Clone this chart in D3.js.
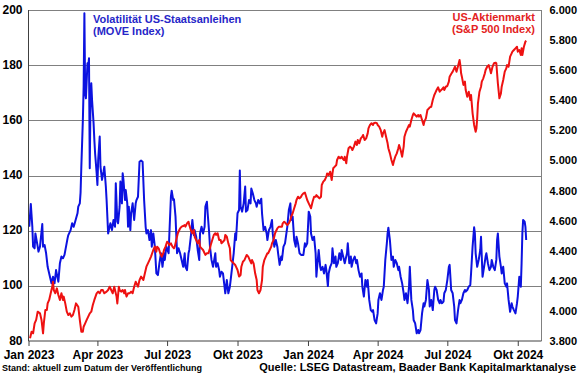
<!DOCTYPE html>
<html>
<head>
<meta charset="utf-8">
<script src="https://cdn.jsdelivr.net/npm/d3@7"></script>
<style>
  html, body { margin: 0; padding: 0; background: #fff; }
  svg { display: block; font-family: "Liberation Sans", Arial, sans-serif; font-weight: bold; }
</style>
</head>
<body>
<svg id="chart" width="580" height="375"></svg>
<script>
// ---------------- DATA ----------------
const baseDate = "2023-01-01"; // day offsets below count from this date

// MOVE Index (left axis)
const moveDays = [
  1,3,5,6,8,9,12,13,15,18, 19,21,23,25,28,30,32,34,36,39, 41,43,45,47,51,52,55,57,59,61,
  64,65,67,68,69,71,72,73,74,75, 77,78,79,80,81,82,83,85,86,87, 89,90,91,93,94,96,98,99,101,102,
  104,105,107,109,111,113,114,116,117,119, 120,122,123,124,126,127,129,130,131,133,
  134,136,138,140,141,143,145,147,149,151, 153,154,156,158,160,161,163,165,167,169,
  171,173,175,177,178,180,183,184,186,187, 189,190,192,194,196,198,200,202,204,205,
  207,209,210,212,214,216,217,219,221,223, 224,226,228,230,231,233,234,236,237,239,
  241,244,245,247,249,250,252,254,256,257, 259,261,263,264,266,268,270,271,273,275,
  276,277,279,281,283,284,286,288,290,291, 293,295,297,298,300,302,304,305,307,309,
  311,312,314,316,318,319,321,323,325,326, 328,330,331,333,335,
  338,340,342,343,345,347,349,350,352,354, 356,357,359,361,362,364,366,368,369,371,
  373,375,376,377,379,381,382,384,386,388, 389,391,392,394,396,397,399,401,402,404,
  406,408,409,411,413,415,416,417,419,421, 422,424,426,428,429,431,433,435,436,438,
  440,442,443,445,447,449,450,452,454,456, 457,459,461,463,464,466,468,469,470,472,
  474,476,477,479,481,483,484,486,488,490, 491,493,495,497,
  498,500,502,503,505,507,509,510,512,514, 516,517,519,521,523,524,526,528,530,531,
  533,535,537,538,540,542,543,545,547,549, 550,551,552,554,556,557,559,561,563,564,
  566,568,570,571,573,575,577,578,580,582, 583,584,586,588,590,591,593,595,597,598,
  600,602,604,605,607,609,611,612,613,615, 617,618,620,622,624,625,627,629,631,632,
  634,636,638,639,641,643,644,645,646,648, 649,650
];
const moveValues = [
  121.4,129.7,121.4,114.2,113.6,119.0,114.2,112.4,114.2,122.4, 114.2,114.8,111.8,106.9,103.3,100.9,103.3,100.9,105.7,101.5, 108.2,110.6,110.0,111.2,117.2,118.4,120.2,122.7,121.4,123.3,
  126.3,128.7,129.9,133.8,143.2,160.1,172.2,198.8,169.8,168.0, 180.7,179.5,182.5,142.6,167.4,173.4,167.4,158.9,152.9,148.0, 140.8,136.6,145.6,154.1,143.2,138.4,141.4,143.2,136.0,131.1,
  119.0,120.2,122.7,120.2,123.9,121.4,137.2,123.3,122.7,128.7, 137.8,129.9,140.8,138.4,131.1,134.7,129.9,121.4,128.7,120.2,
  126.3,129.9,123.9,129.9,131.1,132.3,145.0,145.4,145.0,131.1, 121.4,119.0,120.2,116.6,120.2,114.2,119.0,114.2,104.5,103.9,
  108.2,111.8,106.9,111.8,109.4,114.2,111.8,119.0,132.3,134.5, 131.1,131.4,125.1,111.8,113.6,111.8,109.4,106.9,111.8,106.9,
  105.7,111.8,113.0,117.8,123.9,118.4,120.2,117.8,113.0,109.4, 119.0,121.4,119.0,121.4,128.7,130.5,126.3,119.0,114.2,109.4,
  106.9,111.8,106.9,108.2,105.7,103.3,105.1,104.5,99.7,97.3, 102.1,97.3,99.7,102.1,106.9,111.8,119.0,116.6,126.3,127.5,
  141.8,128.7,126.9,129.9,136.0,126.9,127.5,131.1,129.9,135.3, 133.5,131.1,129.9,128.7,131.1,129.9,131.6,126.3,120.2,121.4,
  119.0,116.6,120.2,121.4,123.9,119.0,114.2,116.6,114.2,111.8, 107.6,110.6,109.4,114.2,115.4,
  121.4,127.5,129.9,123.9,125.1,116.6,114.2,117.8,115.4,111.8, 111.2,111.2,111.2,115.4,114.2,115.4,126.9,125.1,119.0,116.6,
  117.8,111.8,103.3,106.9,113.0,106.9,105.7,106.9,104.5,107.6, 105.7,99.9,104.5,106.9,108.2,113.6,108.2,110.6,106.9,108.2,
  111.8,109.4,113.0,110.6,108.2,110.6,111.8,115.4,108.2,110.6, 106.9,109.4,110.6,108.2,109.4,105.7,103.3,104.5,99.7,96.1,
  102.1,99.7,102.1,94.9,91.2,90.6,91.2,87.6,86.4,90.0, 94.9,97.3,94.9,98.5,99.7,109.4,115.4,119.0,121.1,116.6,
  109.4,110.6,106.9,109.4,108.2,105.7,106.9,103.3,100.9,97.3, 94.9,97.3,93.7,99.7,
  106.9,94.9,91.2,87.6,86.4,82.8,84.0,82.8,84.0,90.0, 93.7,92.5,94.9,102.1,98.5,92.5,94.9,91.2,98.5,99.7,
  98.5,94.9,93.7,94.9,93.7,94.3,97.3,98.5,102.1,106.9, 107.6,103.3,98.5,97.3,92.5,87.6,86.4,91.2,94.9,93.7,
  94.9,97.3,98.5,97.9,98.5,99.7,100.3,104.5,114.2,121.2, 119.0,111.8,106.9,109.4,113.0,117.8,103.3,106.9,110.6,111.8,
  108.2,105.7,106.9,109.4,106.9,105.7,109.4,116.6,119.0,110.6, 106.9,104.5,106.9,100.9,99.7,100.9,94.9,90.6,93.7,92.5,
  91.2,90.0,93.7,96.1,103.3,99.7,108.2,119.0,123.9,123.3, 121.4,116.6
];

// S&P 500 Index (right axis)
const spxDays = [
  2,4,6,8,10,12,15,17,19,20, 22,24,25,27,29,31,32,33,35,37, 39,41,43,45,46,48,50,52,54,56,
  58,60,62,65,67,69,71,72,74,76, 78,80,82,84,86,89,91,93,95,97, 99,102,104,106,108,110,112,115,116,118,
  119,121,123,125,126,128,130,132,134,136, 138,140,141,143,145,147,150,152,154,156, 158,160,163,165,167,168,170,
  172,174,176,177,179,181,183,184,186,188, 190,191,193,195,197,198,200,202,204,205,
  207,209,210,212,214,216,217,219,221,223, 224,226,228,230,231,233,235,237,238,240,
  242,244,245,247,249,251,252,254,256,257, 259,261,263,264,266,268,270,271,273,275,
  277,278,280,282,284,285,287,289,291,292, 294,296,298,299,301,303,305,306,308,310,
  312,313,315,317,318,320,322,324,325,327, 329,331,332,334,
  338,340,342,343,345,347,349,350,352,354, 356,357,359,361,362,364,366,368,369,371,
  373,375,376,378,380,382,383,385,387,389, 390,392,394,396,397,398,400,402,403,405,
  407,409,410,412,413,415,416,418,420,422, 423,425,427,429,430,432,434,436,437,439,
  441,443,444,446,448,450,451,453,455,456, 458,460,462,463,465,467,469,470,472,474,
  476,477,479,481,483,484,486,488,490,491, 493,495,497,
  498,500,502,503,505,507,509,510,512,514, 516,517,519,521,523,524,526,528,530,531,
  533,535,537,538,540,542,543,545,547,549, 550,552,554,556,557,559,561,563,564,565,
  566,568,570,571,573,575,577,578,580,582, 584,585,586,587,589,591,592,594,596,597,
  599,601,603,604,606,608,610,611,613,615, 617,618,620,622,624,625,627,629,631,632,
  634,636,638,639,641,643,644,645,647,649, 650
];
const spxValues = [
  3818,3862,3851,3917,3940,3995,3984,3940,3851,3917, 4006,4006,4050,4073,4117,4161,4194,4139,4117,4150, 4106,4073,4117,4073,4095,4050,3995,3973,3984,3962,
  3973,4006,4050,4028,3940,3862,3862,3895,3917,3940, 3962,3984,3995,4039,4073,4117,4128,4117,4139,4139, 4117,4128,4139,4161,4139,4117,4161,4095,4050,4161,
  4139,4128,4139,4117,4139,4095,4117,4117,4128,4117, 4161,4194,4183,4161,4205,4228,4205,4250,4294,4316, 4338,4361,4405,4427,4394,4427,4416,
  4383,4361,4383,4405,4427,4460,4449,4438,4449,4427, 4416,4427,4471,4516,4538,4549,4560,4564,4571,4560,
  4582,4593,4571,4538,4516,4538,4493,4471,4449,4471, 4427,4416,4405,4383,4372,4383,4383,4416,4438,4471,
  4505,4516,4505,4516,4471,4471,4449,4460,4471,4505, 4493,4449,4416,4338,4327,4316,4305,4294,4272,4228,
  4239,4294,4327,4338,4361,4372,4361,4338,4316,4338, 4316,4250,4205,4139,4117,4139,4205,4294,4338,4361,
  4383,4383,4405,4427,4449,4471,4516,4538,4549,4560, 4560,4560,4582,4593,
  4571,4582,4604,4626,4649,4682,4715,4737,4759,4748, 4759,4770,4781,4786,4770,4737,4715,4693,4682,4726,
  4759,4759,4770,4759,4748,4759,4837,4859,4870,4892, 4914,4903,4925,4870,4914,4948,4959,4970,5003,5025,
  5014,5025,5014,5003,5025,4981,5025,5081,5092,5081, 5069,5092,5125,5103,5136,5114,5147,5158,5169,5136,
  5147,5180,5213,5236,5247,5236,5247,5251,5247,5236, 5225,5202,5158,5180,5202,5158,5114,5081,5047,5003,
  4970,4992,5025,5047,5081,5103,5069,5025,5092,5158, 5191,5213,5236,
  5225,5269,5302,5313,5302,5291,5302,5291,5302,5269, 5236,5258,5280,5335,5346,5353,5357,5402,5435,5446,
  5468,5486,5457,5464,5473,5486,5468,5490,5495,5524, 5557,5575,5590,5612,5623,5590,5628,5668,5634,5579,
  5557,5502,5524,5468,5424,5457,5402,5435,5313,5236, 5191,5213,5280,5380,5457,5490,5524,5546,5579,5601,
  5623,5634,5601,5579,5623,5646,5650,5646,5513,5413, 5446,5490,5535,5590,5612,5634,5623,5690,5712,5723,
  5734,5745,5756,5723,5734,5701,5745,5701,5756,5790, 5796
];

// Axes
const leftTicks = [80, 100, 120, 140, 160, 180, 200];
const gridTicks = [100, 120, 140, 160, 180, 200];
const rightTicks = [3800, 4000, 4200, 4400, 4600, 4800, 5000, 5200, 5400, 5600, 5800, 6000];
const xTickDates = ["2023-01-01","2023-04-01","2023-07-01","2023-10-01","2024-01-01","2024-04-01","2024-07-01","2024-10-01"];
const xTickLabels = ["Jan 2023","Apr 2023","Jul 2023","Okt 2023","Jan 2024","Apr 2024","Jul 2024","Okt 2024"];
const xDomain = ["2023-01-01", "2024-11-01"];

const moveTitle = ["Volatilität US-Staatsanleihen", "(MOVE Index)"];
const spxTitle = ["US-Aktienmarkt", "(S&P 500 Index)"];
const footLeft = "Stand: aktuell zum Datum der Veröffentlichung";
const footRight = "Quelle: LSEG Datastream, Baader Bank Kapitalmarktanalyse";

// ---------------- CHART ----------------
const parse = d3.timeParse("%Y-%m-%d");
const base = parse(baseDate);
const toDate = d => d3.timeDay.offset(base, d);

const moveData = moveDays.map((d, i) => ({ date: toDate(d), v: moveValues[i] }));
const spxData = spxDays.map((d, i) => ({ date: toDate(d), v: spxValues[i] }));

const L = 28.5, R = 541.5, T = 10, B = 341;
const x = d3.scaleTime().domain(xDomain.map(parse)).range([L, R]);
const yL = d3.scaleLinear().domain([80, 200]).range([B, T]);
const yR = d3.scaleLinear().domain([3800, 6000]).range([B, T]);

const de = d3.formatLocale({ decimal: ",", thousands: ".", grouping: [3], currency: ["", " €"] });
const fmtR = de.format(",d");

const svg = d3.select("#chart");

// gridlines
svg.append("g").selectAll("line").data(gridTicks).join("line")
  .attr("x1", L).attr("x2", R)
  .attr("y1", d => Math.round(yL(d)) + 0.5).attr("y2", d => Math.round(yL(d)) + 0.5)
  .attr("stroke", "#808080").attr("stroke-width", 1);

// right axis line
svg.append("line").attr("x1", R).attr("x2", R).attr("y1", T).attr("y2", B)
  .attr("stroke", "#808080").attr("stroke-width", 1);

// lines
const lineL = d3.line().x(d => x(d.date)).y(d => yL(d.v));
const lineR = d3.line().x(d => x(d.date)).y(d => yR(d.v));

svg.append("path").datum(moveData).attr("d", lineL)
  .attr("fill", "none").attr("stroke", "#0c12e0").attr("stroke-width", 2)
  .attr("stroke-linejoin", "round");
svg.append("path").datum(spxData).attr("d", lineR)
  .attr("fill", "none").attr("stroke", "#ee1111").attr("stroke-width", 2)
  .attr("stroke-linejoin", "round");

// left axis
const gL = svg.append("g").attr("transform", `translate(${L},0)`)
  .call(d3.axisLeft(yL).tickValues(leftTicks).tickSize(0).tickPadding(6));
gL.select(".domain").attr("stroke", "#404040").attr("d", `M0,${T}V${B}`);
gL.selectAll("text").attr("font-size", 12).attr("font-weight", "bold").attr("dy", "0.25em")
  .attr("font-family", '"Liberation Sans", Arial, sans-serif').attr("fill", "#000");

// right axis
const gR = svg.append("g").attr("transform", `translate(${R},0)`)
  .call(d3.axisRight(yR).tickValues(rightTicks).tickSize(0).tickPadding(8).tickFormat(fmtR));
gR.select(".domain").remove();
gR.selectAll("text").attr("font-size", 11).attr("font-weight", "bold")
  .attr("font-family", '"Liberation Sans", Arial, sans-serif').attr("fill", "#000");

// bottom axis
const gB = svg.append("g").attr("transform", `translate(0,${B})`)
  .call(d3.axisBottom(x).tickValues(xTickDates.map(parse)).tickSize(5).tickPadding(4)
    .tickFormat((d, i) => xTickLabels[i]));
gB.select(".domain").attr("stroke", "#404040").attr("d", `M${L},0H${R}`);
gB.selectAll(".tick line").attr("stroke", "#404040");
gB.selectAll("text").attr("font-size", 12).attr("font-weight", "bold")
  .attr("font-family", '"Liberation Sans", Arial, sans-serif').attr("fill", "#000");

// titles
const t1 = svg.append("text").attr("x", 93).attr("y", 23)
  .attr("font-size", 11).attr("fill", "#2626c8");
t1.selectAll("tspan").data(moveTitle).join("tspan")
  .attr("x", 93).attr("dy", (d, i) => i ? 12 : 0).text(d => d);

const t2 = svg.append("text").attr("x", 535).attr("y", 21)
  .attr("font-size", 11).attr("fill", "#e32222").attr("text-anchor", "end");
t2.selectAll("tspan").data(spxTitle).join("tspan")
  .attr("x", 535).attr("dy", (d, i) => i ? 12 : 0).text(d => d);

// footers
svg.append("text").attr("x", 2).attr("y", 371).attr("font-size", 9).attr("fill", "#000").text(footLeft);
svg.append("text").attr("x", 576).attr("y", 371).attr("font-size", 11).attr("fill", "#000")
  .attr("text-anchor", "end").text(footRight);
</script>
</body>
</html>
